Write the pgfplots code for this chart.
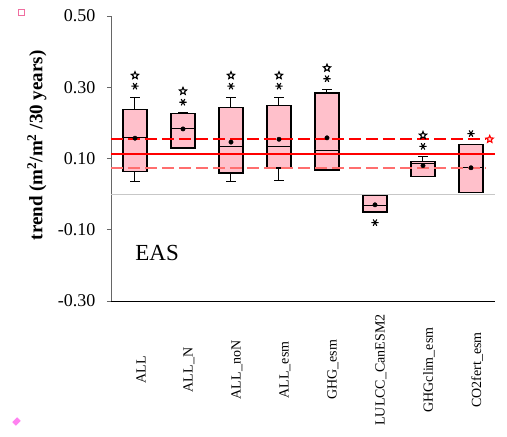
\documentclass[border=0pt]{standalone}
\usepackage{pgfplots}
\pgfplotsset{compat=1.18}
\usepgfplotslibrary{statistics}
\usetikzlibrary{plotmarks}
\usepackage{fontspec}
\setmainfont{Liberation Serif}
\definecolor{boxpink}{RGB}{255,192,203}
\definecolor{sqpink}{RGB}{240,110,160}
\definecolor{diapink}{RGB}{255,130,240}
\definecolor{lnredB}{RGB}{255,110,110}
\pgfdeclareplotmark{ostar}{%
  \pgfpathmoveto{\pgfpointpolar{90}{\pgfplotmarksize}}%
  \pgfpathlineto{\pgfpointpolar{126}{0.45\pgfplotmarksize}}%
  \pgfpathlineto{\pgfpointpolar{162}{\pgfplotmarksize}}%
  \pgfpathlineto{\pgfpointpolar{198}{0.45\pgfplotmarksize}}%
  \pgfpathlineto{\pgfpointpolar{234}{\pgfplotmarksize}}%
  \pgfpathlineto{\pgfpointpolar{270}{0.45\pgfplotmarksize}}%
  \pgfpathlineto{\pgfpointpolar{306}{\pgfplotmarksize}}%
  \pgfpathlineto{\pgfpointpolar{342}{0.45\pgfplotmarksize}}%
  \pgfpathlineto{\pgfpointpolar{18}{\pgfplotmarksize}}%
  \pgfpathlineto{\pgfpointpolar{54}{0.45\pgfplotmarksize}}%
  \pgfpathclose
  \pgfusepathqfillstroke
}
\pgfplotsset{
  mybox/.style={
    draw=black, fill=boxpink, line width=1.5pt,
    boxplot/draw direction=y,
    boxplot/every whisker/.style={line width=1pt},
    boxplot/every median/.style={line width=0.9pt},
  }
}
\begin{document}
\begin{tikzpicture}
\useasboundingbox (0,0) rectangle (507pt,437pt);
\begin{axis}[
  at={(111pt,136pt)}, anchor=south west,
  width=384pt, height=285pt, scale only axis,
  xmin=-0.5, xmax=7.5, ymin=-0.3, ymax=0.5,
  axis x line*=bottom, axis y line*=left,
  x axis line style={black, line width=0.9pt},
  y axis line style={black!60, line width=0.9pt},
  xtick={0,...,7},
  xticklabels={ALL, ALL\_N, ALL\_noN, ALL\_esm, GHG\_esm, LULCC\_CanESM2, GHGclim\_esm, CO2fert\_esm},
  major x tick style={draw=none},
  xticklabel style={font=\fontsize{14}{16}\selectfont, anchor=center, yshift=-65pt, xshift=6pt, rotate=90},
  ytick={-0.3,-0.1,0.1,0.3,0.5},
  yticklabels={-0.30,-0.10,0.10,0.30,0.50},
  yticklabel style={font=\fontsize{18}{20}\selectfont, xshift=-8pt},
  major y tick style={black!60, line width=0.8pt},
  tick align=outside, major tick length=4pt,
  clip=false,
]
\addplot[draw=black!22, line width=1.2pt] coordinates {(-0.5,0) (7.5,0)};
% boxes
\addplot[mybox, boxplot prepared={draw position=0, lower whisker=0.035, lower quartile=0.064, median=0.159, upper quartile=0.237, upper whisker=0.272, box extend=0.5, whisker extend=0.2}] coordinates {};
\addplot[mybox, boxplot prepared={draw position=1, lower whisker=0.129, lower quartile=0.129, median=0.185, upper quartile=0.227, upper whisker=0.230, box extend=0.5, whisker extend=0.2}] coordinates {};
\addplot[mybox, boxplot prepared={draw position=2, lower whisker=0.035, lower quartile=0.060, median=0.134, upper quartile=0.243, upper whisker=0.272, box extend=0.5, whisker extend=0.2}] coordinates {};
\addplot[mybox, boxplot prepared={draw position=3, lower whisker=0.039, lower quartile=0.073, median=0.134, upper quartile=0.249, upper whisker=0.272, box extend=0.5, whisker extend=0.2}] coordinates {};
\addplot[mybox, boxplot prepared={draw position=4, lower whisker=0.068, lower quartile=0.068, median=0.124, upper quartile=0.284, upper whisker=0.294, box extend=0.5, whisker extend=0.2}] coordinates {};
\addplot[mybox, boxplot prepared={draw position=5, lower whisker=-0.050, lower quartile=-0.050, median=-0.033, upper quartile=-0.004, upper whisker=-0.004, box extend=0.5, whisker extend=0.2}] coordinates {};
\addplot[mybox, boxplot prepared={draw position=6, lower whisker=0.049, lower quartile=0.049, median=0.086, upper quartile=0.091, upper whisker=0.105, box extend=0.5, whisker extend=0.2}] coordinates {};
\addplot[mybox, boxplot prepared={draw position=7, lower whisker=0.005, lower quartile=0.005, median=0.076, upper quartile=0.139, upper whisker=0.139, box extend=0.5, whisker extend=0.2}] coordinates {};
% reference lines
\addplot[draw=red, line width=1.9pt, dash pattern=on 12pt off 5pt] coordinates {(-0.5,0.154) (7.3,0.154)};
\addplot[draw=lnredB, line width=1.9pt, dash pattern=on 12pt off 5pt] coordinates {(-0.5,0.074) (7.3,0.074)};
\addplot[draw=red, line width=1.6pt] coordinates {(-0.5,0.113) (7.5,0.113)};
% means
\addplot[only marks, mark=*, mark size=2.2pt, black] coordinates {(0,0.157) (1,0.183) (2,0.146) (3,0.154) (4,0.158) (5,-0.030) (6,0.080) (7,0.074)};
% significance marks
\addplot[only marks, mark=ostar, mark size=3.8pt, draw=black, fill=white, line width=1.1pt] coordinates {(0,0.333) (1,0.289) (2,0.333) (3,0.333) (4,0.354) (6,0.165)};
\addplot[only marks, mark=asterisk, mark size=3.6pt, black, line width=1.1pt, mark options={rotate=90}] coordinates {(0,0.303) (1,0.258) (2,0.303) (3,0.303) (4,0.324) (5,-0.080) (6,0.134) (7,0.170)};
\addplot[only marks, mark=ostar, mark size=3.8pt, draw=red, fill=red!15, line width=1.1pt] coordinates {(7.39,0.154)};
\node[font=\fontsize{23}{25}\selectfont] at (axis cs:0.46,-0.165) {EAS};
\node[rotate=90, font=\bfseries\fontsize{19}{21}\selectfont] at (rel axis cs:-0.193,0.546) {trend (m\textsuperscript{2}/m\textsuperscript{2} /30 years)};
\end{axis}
\draw[sqpink, line width=1pt] (18pt,421pt) rectangle (24pt,427pt);
\fill[diapink, rotate around={45:(16.5pt,15.5pt)}] (13pt,13pt) rectangle (20pt,18pt);
\end{tikzpicture}
\end{document}
